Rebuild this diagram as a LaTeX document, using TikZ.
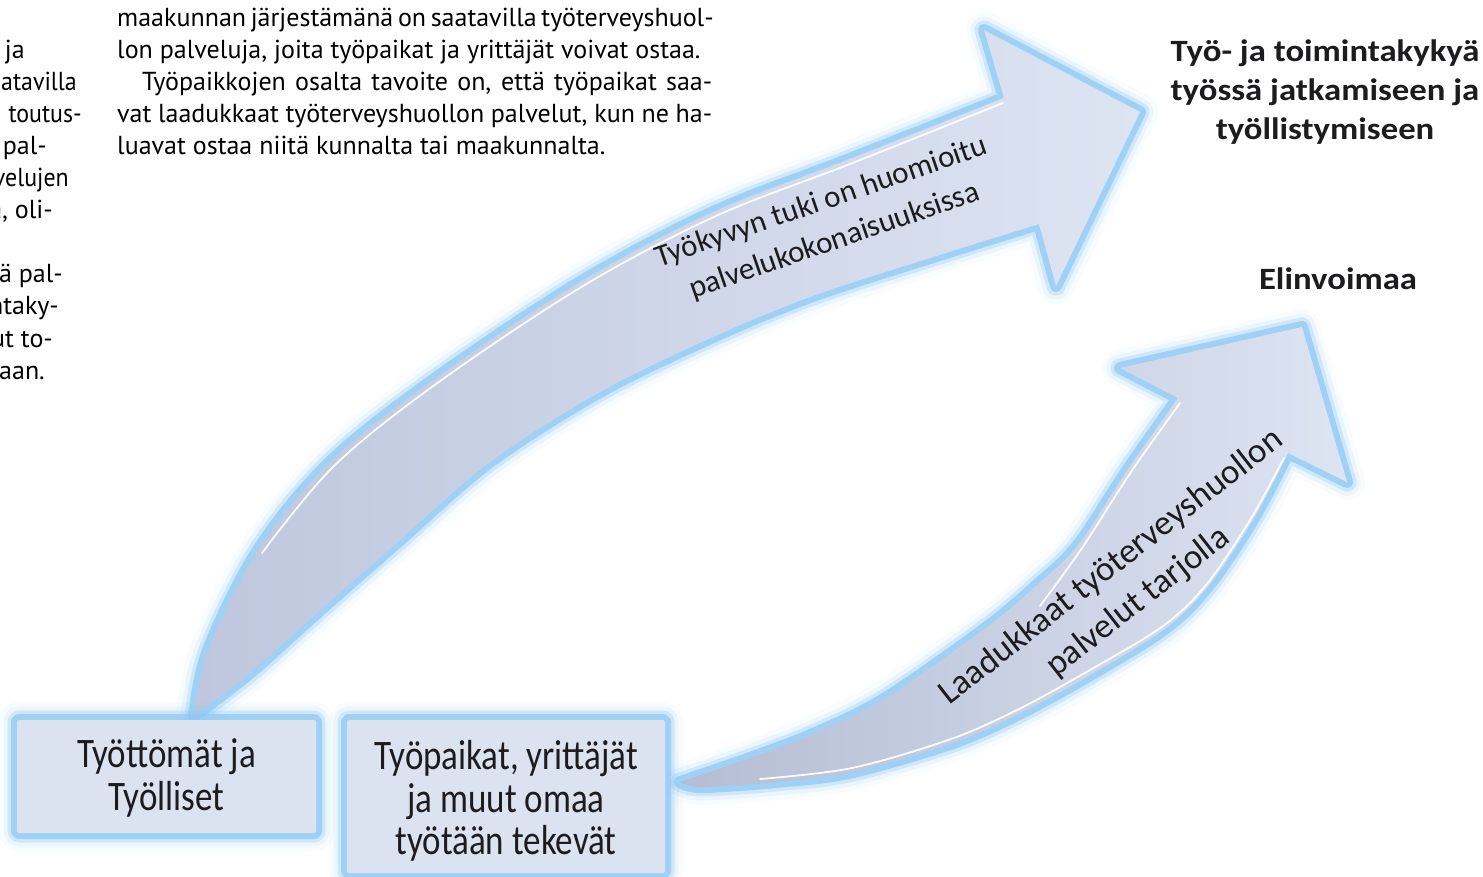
\documentclass[tikz,border=0pt]{standalone}
\usepackage{fontspec}
\setmainfont{Carlito}
\newfontfamily\bodyfont{PT Sans}
\usepackage{graphicx}

\definecolor{glowc}{RGB}{140,200,245}
\definecolor{fillhead}{RGB}{221,228,242}
\definecolor{filltail}{RGB}{190,199,221}
\definecolor{filltailb}{RGB}{180,189,211}
\definecolor{boxfill}{RGB}{219,226,240}
\definecolor{txt}{RGB}{28,28,30}

\tikzset{
  glow/.style={
    preaction={draw=glowc, line width=36pt, draw opacity=0.05, line join=round},
    preaction={draw=glowc, line width=27pt, draw opacity=0.12, line join=round},
    preaction={draw=glowc, line width=19pt, draw opacity=0.3, line join=round},
    preaction={draw=glowc, line width=12pt, draw opacity=0.7, line join=round}},
  hl/.style={draw=white, line width=1.8pt, line cap=round, draw opacity=0.95},
  bodytext/.style={font=\bodyfont\fontsize{26}{32}\selectfont, inner sep=0pt, text=black},
  boxnode/.style={glow, fill=boxfill, rounded corners=2pt, inner sep=0pt, text=txt,
    font=\fontsize{35}{35.5}\selectfont},
  goaltext/.style={font=\bfseries\fontsize{31}{39}\selectfont, text=txt, inner sep=0pt},
  arrowlabel/.style={text=txt, inner sep=0pt}
}

\begin{document}
\begin{tikzpicture}[x=1pt,y=-1pt]
\useasboundingbox (0,0) rectangle (1483,877);
\fill[white] (0,0) rectangle (1483,877);

% ---------- body text, left column fragments ----------
\node[bodytext, anchor=base east] (c1) at (25,59) {ja};
\node[bodytext, anchor=base east] (c2) at (77,91) {\scalebox{0.92}[1]{atavilla}};
\node[bodytext, anchor=base east] (c3) at (82,123) {\scalebox{0.92}[1]{toutus-}};
\node[bodytext, anchor=base east] (c4) at (47,155) {pal-};
\node[bodytext, anchor=base east] (c5) at (69,187) {\scalebox{0.92}[1]{velujen}};
\node[bodytext, anchor=base east] (c6) at (53,219) {ta, oli-};
\node[bodytext, anchor=base east] (c7) at (63,283) {tä pal-};
\node[bodytext, anchor=base east] (c8) at (59,315) {ntaky-};
\node[bodytext, anchor=base east] (c9) at (53,347) {ut to-};
\node[bodytext, anchor=base east] (c10) at (45,379) {aan.};

% ---------- body text, middle column ----------
\node[bodytext, anchor=base west] (m1) at (117,27) {\makebox[595pt][s]{maakunnan järjestämänä on saatavilla työterveyshuol-}};
\node[bodytext, anchor=base west] (m2) at (117,59) {lon palveluja, joita työpaikat ja yrittäjät voivat ostaa.};
\node[bodytext, anchor=base west] (m3) at (142,91) {\makebox[570pt][s]{Työpaikkojen osalta tavoite on, että työpaikat saa-}};
\node[bodytext, anchor=base west] (m4) at (117,123) {\makebox[595pt][s]{vat laadukkaat työterveyshuollon palvelut, kun ne ha-}};
\node[bodytext, anchor=base west] (m5) at (117,155) {luavat ostaa niitä kunnalta tai maakunnalta.};

% ---------- upper arrow ----------
\path[glow, left color=filltail, right color=fillhead]
  plot[smooth, tension=0.55] coordinates {(194,716) (208,650) (258,550) (330,462) (433,380) (580,282) (713,212) (847,160) (1004,98)}
  -- (984,30) -- (1140,112) -- (1056,286) -- (1039,224)
  -- plot[smooth, tension=0.55] coordinates {(1039,224) (930,258) (813,296) (713,337) (600,392) (490,462) (400,540) (317,613) (250,673) (194,716)}
  -- cycle;
\draw[hl] plot[smooth, tension=0.55] coordinates {(262,553) (334,466) (436,384) (583,286) (716,216) (850,164) (1003,103)};

% ---------- lower arrow ----------
\path[glow, left color=filltailb, right color=fillhead]
  plot[smooth, tension=0.55] coordinates {(680,782) (753,757) (820,731) (887,697) (987,627) (1038,584) (1078,545) (1128,469) (1178,398)}
  -- (1120,368) -- (1302,327) -- (1347,482) -- (1288,453)
  -- plot[smooth, tension=0.55] coordinates {(1288,453) (1254,518) (1210,584) (1166,628) (1092,674) (1021,713) (953,743) (853,772) (787,781) (703,787) (680,782)}
  -- cycle;
\draw[hl] plot[smooth, tension=0.55] coordinates {(1284,458) (1250,520) (1206,585) (1163,626) (1090,670) (1019,709) (951,739) (852,768) (760,779)};
\draw[hl] plot[smooth, tension=0.55] coordinates {(1180,403) (1131,472) (1082,548) (1040,606)};

% ---------- boxes ----------
\node[boxnode, minimum width=299pt, minimum height=113pt] (b1) at (166.5,776.5)
  {\raisebox{-4pt}[\height][\depth]{\scalebox{1}[1.2]{\begin{tabular}{@{}c@{}}Työttömät ja\\Työlliset\end{tabular}}}};
\node[boxnode, minimum width=318pt, minimum height=153pt] (b2) at (506,796.5)
  {\raisebox{-7pt}[\height][\depth]{\scalebox{1}[1.2]{\begin{tabular}{@{}c@{}}Työpaikat, yrittäjät\\ja muut omaa\\työtään tekevät\end{tabular}}}};

% ---------- arrow labels ----------
\node[arrowlabel, rotate=19, font=\fontsize{31}{41}\selectfont] (l1) at (828,222)
  {\begin{tabular}{@{}c@{}}Työkyvyn tuki on huomioitu\\palvelukokonaisuuksissa\end{tabular}};
\node[arrowlabel, rotate=38, font=\fontsize{35}{44}\selectfont] (l2) at (1125,585)
  {\begin{tabular}{@{}c@{}}Laadukkaat työterveyshuollon\\palvelut tarjolla\end{tabular}};

% ---------- goal texts ----------
\node[goaltext] (g1) at (1325,93)
  {\scalebox{1.12}[1]{\begin{tabular}{@{}c@{}}Työ- ja toimintakykyä\\työssä jatkamiseen ja\\työllistymiseen\end{tabular}}};
\node[goaltext, anchor=base] (g2) at (1338,290) {\scalebox{1.12}[1]{Elinvoimaa}};
\end{tikzpicture}
\end{document}
